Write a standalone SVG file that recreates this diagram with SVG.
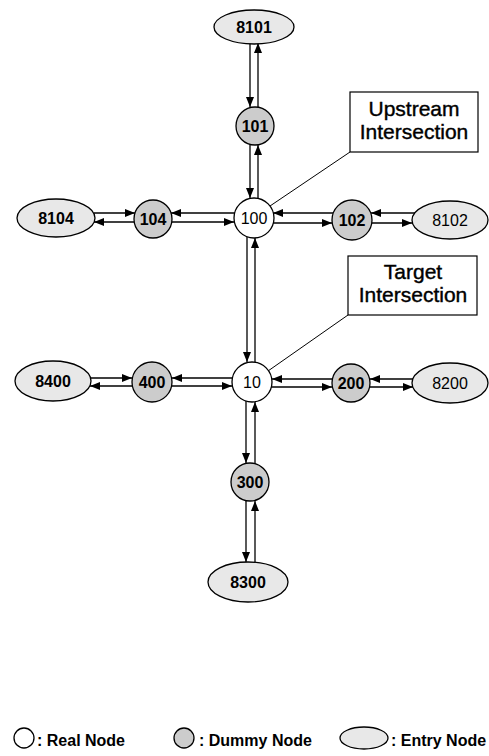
<svg xmlns="http://www.w3.org/2000/svg" width="489" height="756" viewBox="0 0 489 756">
<style>
.real{fill:#ffffff;stroke:#000;stroke-width:1.3}
.dummy{fill:#cccccc;stroke:#000;stroke-width:1.3}
.entry{fill:#e8e8e8;stroke:#000;stroke-width:1.3}
.lbl{font-family:"Liberation Sans",Arial,sans-serif;font-size:16px;text-anchor:middle;fill:#000}
.b{font-weight:bold}
.box{fill:#fff;stroke:#000;stroke-width:1.2}
.btxt{font-family:"Liberation Sans",Arial,sans-serif;font-size:21px;text-anchor:middle;fill:#000;stroke:#000;stroke-width:0.4}
.leg{font-family:"Liberation Sans",Arial,sans-serif;font-size:16px;font-weight:bold;fill:#000}
.c line{stroke:#000;stroke-width:1.3;marker-end:url(#ah)}
.lead{stroke:#000;stroke-width:1}
</style>
<defs>
<marker id="ah" markerUnits="userSpaceOnUse" markerWidth="11" markerHeight="9" refX="10" refY="4" orient="auto">
<path d="M0,0 L10,4 L0,8 z" fill="#000"/>
</marker>
</defs>
<rect width="489" height="756" fill="#fff"/>
<g id="connectors" class="c">
<line x1="250" y1="43" x2="250" y2="107"/>
<line x1="258" y1="108" x2="258" y2="43"/>
<line x1="250" y1="145" x2="250" y2="198"/>
<line x1="258" y1="198" x2="258" y2="145"/>
<line x1="247" y1="237" x2="247" y2="362"/>
<line x1="255" y1="362" x2="255" y2="238"/>
<line x1="246" y1="401" x2="246" y2="463"/>
<line x1="255" y1="464" x2="255" y2="402"/>
<line x1="246" y1="501" x2="246" y2="562"/>
<line x1="255" y1="562" x2="255" y2="501"/>
<line x1="94" y1="213" x2="135" y2="213"/>
<line x1="134" y1="222" x2="94" y2="222"/>
<line x1="235" y1="213" x2="171" y2="213"/>
<line x1="172" y1="222" x2="234" y2="222"/>
<line x1="333" y1="213" x2="273" y2="213"/>
<line x1="273" y1="223" x2="332" y2="223"/>
<line x1="415" y1="213" x2="371" y2="213"/>
<line x1="372" y1="223" x2="412" y2="223"/>
<line x1="332" y1="379" x2="272" y2="379"/>
<line x1="271" y1="387" x2="332" y2="387"/>
<line x1="413" y1="379" x2="370" y2="379"/>
<line x1="370" y1="387" x2="413" y2="387"/>
<line x1="91" y1="378" x2="132" y2="378"/>
<line x1="132" y1="386" x2="90" y2="386"/>
<line x1="232" y1="378" x2="172" y2="378"/>
<line x1="172" y1="386" x2="232" y2="386"/>
</g>
<g id="upstream-label">
<line class="lead" x1="350" y1="152" x2="270" y2="206"/>
<rect class="box" x="350" y="92" width="128" height="60"/>
<text class="btxt" x="414" y="116">Upstream</text>
<text class="btxt" x="414" y="139">Intersection</text>
</g>
<g id="target-label">
<line class="lead" x1="348" y1="315" x2="268" y2="371"/>
<rect class="box" x="348" y="256" width="129" height="59"/>
<text class="btxt" x="413" y="279">Target</text>
<text class="btxt" x="413" y="302">Intersection</text>
</g>
<g id="n8101"><ellipse class="entry" cx="254" cy="27" rx="40" ry="17"/><text class="lbl b" x="254" y="33">8101</text></g>
<g id="n101"><circle class="dummy" cx="255" cy="126" r="19"/><text class="lbl b" x="255" y="132">101</text></g>
<g id="n100"><circle class="real" cx="254" cy="218" r="20"/><text class="lbl" x="254" y="224">100</text></g>
<g id="n8104"><ellipse class="entry" cx="56" cy="218" rx="39" ry="19"/><text class="lbl b" x="56" y="224">8104</text></g>
<g id="n104"><circle class="dummy" cx="153" cy="219" r="19"/><text class="lbl b" x="153" y="225">104</text></g>
<g id="n102"><circle class="dummy" cx="352" cy="220" r="20"/><text class="lbl b" x="352" y="226">102</text></g>
<g id="n8102"><ellipse class="entry" cx="450" cy="220" rx="38" ry="19"/><text class="lbl" x="450" y="226">8102</text></g>
<g id="n10"><circle class="real" cx="252" cy="382" r="20"/><text class="lbl" x="252" y="388">10</text></g>
<g id="n400"><circle class="dummy" cx="152" cy="382" r="20"/><text class="lbl b" x="152" y="388">400</text></g>
<g id="n8400"><ellipse class="entry" cx="53" cy="381" rx="38" ry="20"/><text class="lbl b" x="53" y="387">8400</text></g>
<g id="n200"><circle class="dummy" cx="351" cy="383" r="19"/><text class="lbl b" x="351" y="389">200</text></g>
<g id="n8200"><ellipse class="entry" cx="450" cy="383" rx="38" ry="20"/><text class="lbl" x="450" y="389">8200</text></g>
<g id="n300"><circle class="dummy" cx="250" cy="482" r="19"/><text class="lbl b" x="250" y="488">300</text></g>
<g id="n8300"><ellipse class="entry" cx="248" cy="582" rx="40" ry="20"/><text class="lbl b" x="248" y="588">8300</text></g>
<g id="legend">
<circle class="real" cx="24" cy="738" r="10"/>
<text class="leg" x="37" y="746">: Real Node</text>
<circle class="dummy" cx="184" cy="738" r="10"/>
<text class="leg" x="199" y="746">: Dummy Node</text>
<ellipse class="entry" cx="364" cy="738" rx="24" ry="11"/>
<text class="leg" x="391" y="746">: Entry Node</text>
</g>
</svg>
